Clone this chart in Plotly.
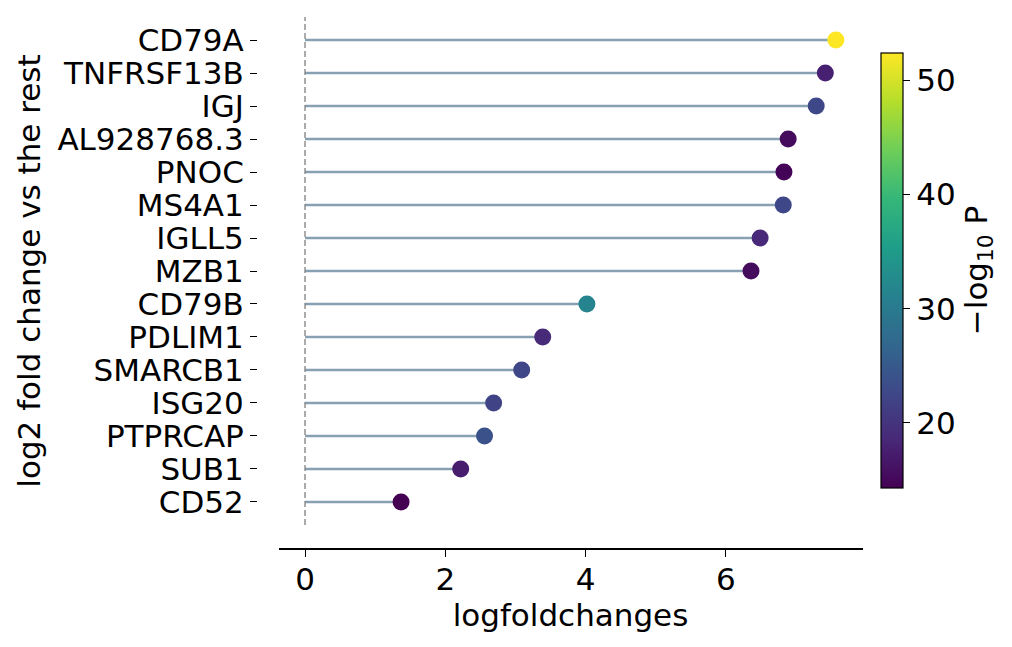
import plotly.graph_objects as go

W, H = 1012, 647
OFF = 8  # page body margin that plotly's html keeps around the div

genes = ["CD79A", "TNFRSF13B", "IGJ", "AL928768.3", "PNOC", "MS4A1", "IGLL5", "MZB1",
         "CD79B", "PDLIM1", "SMARCB1", "ISG20", "PTPRCAP", "SUB1", "CD52"]
logfc = [7.57, 7.42, 7.29, 6.89, 6.83, 6.82, 6.49, 6.36,
         4.02, 3.39, 3.09, 2.69, 2.56, 2.22, 1.37]
neglog10p = [52.4, 17.7, 22.7, 15.5, 14.5, 22.7, 18.5, 15.4,
             31.5, 18.9, 22.5, 22.0, 23.8, 17.3, 14.3]
x_ticks = [0, 2, 4, 6]
cbar_ticks = [20, 30, 40, 50]

FONT = "DejaVu Sans"
FS = 31
STEM = "#87a1b3"


def px_x(p):
    return (p - OFF) / W


def px_y(p):
    return 1 - (p - OFF) / H


# stems drawn as one broken line
sx, sy = [], []
for g, v in zip(genes, logfc):
    sx += [0, v, None]
    sy += [g, g, None]

fig = go.Figure()
fig.add_trace(go.Scatter(
    x=sx, y=sy, mode="lines",
    line=dict(color=STEM, width=2.5),
    hoverinfo="skip", showlegend=False,
))
fig.add_trace(go.Scatter(
    x=logfc, y=genes, mode="markers",
    marker=dict(
        size=17, color=neglog10p, colorscale="Viridis",
        cmin=min(neglog10p), cmax=max(neglog10p),
        line=dict(width=0),
        colorbar=dict(
            x=px_x(881), xanchor="left", xpad=0,
            y=px_y(270.5), yanchor="middle", ypad=0,
            thickness=22, thicknessmode="pixels",
            len=435, lenmode="pixels",
            outlinewidth=1.2, outlinecolor="black",
            tickvals=cbar_ticks, ticks="outside", ticklen=7,
            tickcolor="black", tickwidth=1.2,
            tickfont=dict(family=FONT, size=FS, color="black"),
            title=dict(text="\u2212log<sub>10</sub> P", side="right",
                       font=dict(family=FONT, size=FS, color="black")),
        ),
    ),
    hovertemplate="%{y}<br>logFC %{x:.2f}<br>-log10 P %{marker.color:.1f}<extra></extra>",
    showlegend=False,
))

fig.add_vline(x=0, line=dict(color="#7f7f7f", width=1.3, dash="6px,3px"))

fig.update_layout(
    width=W, height=H,
    margin=dict(l=0, r=0, t=0, b=0),
    plot_bgcolor="white", paper_bgcolor="white",
    font=dict(family=FONT, size=FS, color="black"),
)
fig.update_xaxes(
    domain=[px_x(278.5), px_x(862.5)],
    range=[-0.378, 7.95],
    anchor="free", position=px_y(549), automargin=False,
    showline=True, linecolor="black", linewidth=1.5,
    showgrid=False, zeroline=False,
    tickvals=x_ticks, ticks="outside", ticklen=7, tickwidth=1.2, tickcolor="black",
    ticklabelstandoff=-4,
    tickfont=dict(family=FONT, size=FS),
    title=dict(text="logfoldchanges", standoff=5, font=dict(family=FONT, size=FS)),
)
fig.update_yaxes(
    domain=[px_y(525), px_y(17)],
    type="category", categoryorder="array", categoryarray=genes[::-1],
    tickmode="array", tickvals=genes, ticktext=genes,
    range=[-0.7, len(genes) - 1 + 0.7],
    anchor="free", position=px_x(257), automargin=False,
    showline=False, showgrid=False, zeroline=False,
    ticks="outside", ticklen=7, tickwidth=1.2, tickcolor="black",
    tickfont=dict(family=FONT, size=FS),
    title=dict(text="log2 fold change vs the rest", standoff=6,
               font=dict(family=FONT, size=FS)),
)

fig.write_html("out.html")
